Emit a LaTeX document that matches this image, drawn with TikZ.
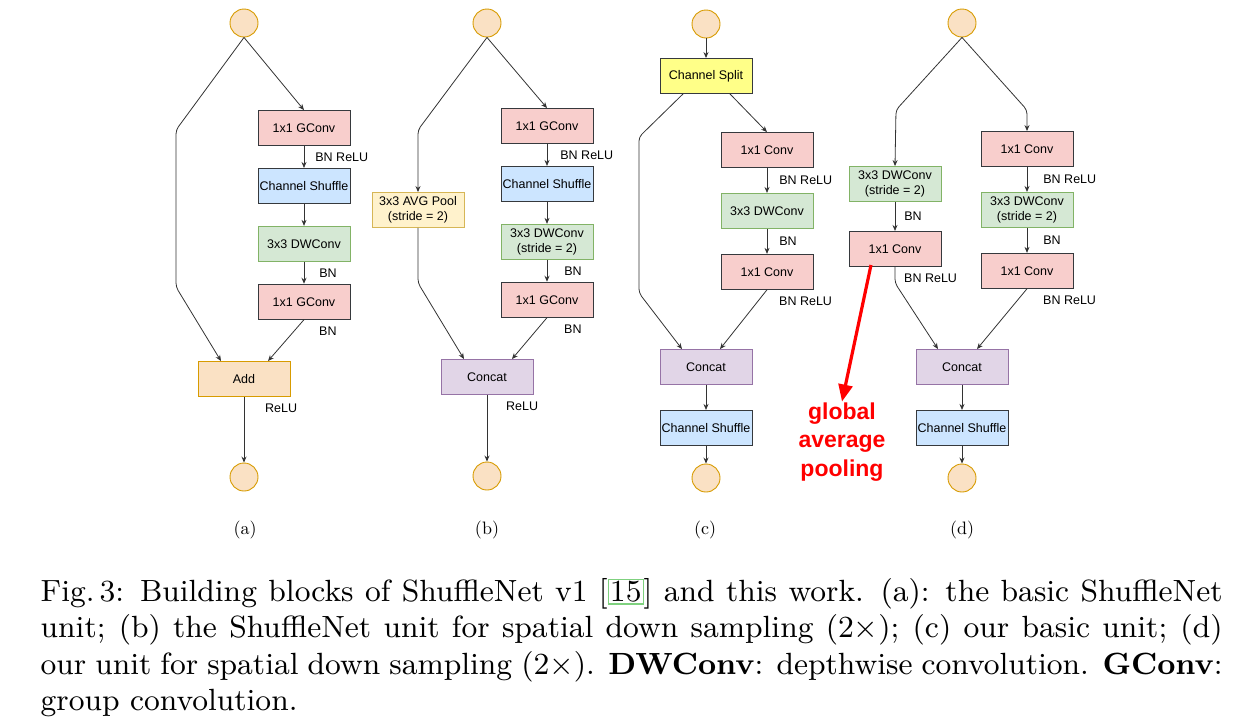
\documentclass[tikz,border=0pt]{standalone}
\usepackage{fontspec}
\setsansfont{Liberation Sans}
\usetikzlibrary{arrows.meta}
\usetikzlibrary{positioning}

\definecolor{convred}{HTML}{F8CECC}
\definecolor{shufblue}{HTML}{CCE5FF}
\definecolor{dwgreen}{HTML}{D5E8D4}
\definecolor{dwline}{HTML}{82B366}
\definecolor{catpurple}{HTML}{E1D5E7}
\definecolor{catline}{HTML}{9673A6}
\definecolor{addorange}{HTML}{FAE1C4}
\definecolor{addline}{HTML}{D79B00}
\definecolor{splityellow}{HTML}{FFFF88}
\definecolor{poolyellow}{HTML}{FFF2CC}
\definecolor{poolline}{HTML}{D6B656}
\definecolor{boxline}{HTML}{36393D}
\definecolor{edgegray}{HTML}{333333}
\definecolor{linkgreen}{HTML}{7FD17F}

\newcommand{\citebox}[1]{{\setlength{\fboxsep}{0.3pt}\setlength{\fboxrule}{0.35pt}\fcolorbox{linkgreen}{white}{#1}}}

\begin{document}
\begin{tikzpicture}[
    x=1pt, y=-1pt,
    >={Stealth[length=6pt,width=5pt]},
    box/.style={draw=boxline, line width=0.9pt, minimum width=92pt, minimum height=35pt, align=center, inner sep=1pt, font=\sffamily\fontsize{12.5}{15.5}\selectfont},
    conv/.style={box, fill=convred},
    shuf/.style={box, fill=shufblue},
    dw/.style={box, fill=dwgreen, draw=dwline},
    cat/.style={box, fill=catpurple, draw=catline},
    addbox/.style={box, fill=addorange, draw=addline},
    splitbox/.style={box, fill=splityellow},
    pool/.style={box, fill=poolyellow, draw=poolline},
    io/.style={circle, draw=addline, fill=addorange, line width=0.9pt, minimum size=28pt, inner sep=0pt},
    lbl/.style={inner sep=0pt, font=\sffamily\fontsize{12.5}{14}\selectfont},
    sub/.style={scale=1.8, transform shape, font=\rmfamily\fontsize{10}{12}\selectfont},
    flow/.style={->, draw=edgegray, line width=0.8pt, rounded corners=4pt},
    gaptext/.style={text=red, align=center, inner sep=1pt, font=\sffamily\bfseries\fontsize{23}{28.5}\selectfont},
    gaparrow/.style={draw=red, line width=3.2pt, -{Triangle[length=17pt,width=14pt]}},
    capt/.style={anchor=north west, text width=346.6pt, align=justify, inner sep=0pt, scale=3.41, transform shape, font=\rmfamily\fontsize{9}{10.6}\selectfont},
    node distance=22pt
]
    \useasboundingbox (0,0) rectangle (1259,724);

    % (a) basic ShuffleNet unit
    \node[io] (in_a) at (244,23) {};
    \node[conv] (g1_a) at (304,128) {1x1 GConv};
    \node[shuf, below=of g1_a] (sh_a) {Channel Shuffle};
    \node[dw, below=of sh_a] (dw_a) {3x3 DWConv};
    \node[conv, below=of dw_a] (g2_a) {1x1 GConv};
    \node[addbox] (add_a) at (244,379) {Add};
    \node[io] (out_a) at (244,477) {};
    \node[sub] (sub_a) at (245,530) {(a)};

    \draw[flow] (in_a.south) -- (176,130) -- (176,287) -- ([xshift=-23pt]add_a.north);
    \draw[flow] (in_a.south) -- (g1_a.north);
    \draw[flow] (g1_a) -- node[lbl, right=11pt] (l1_a) {BN ReLU} (sh_a);
    \draw[flow] (sh_a) -- (dw_a);
    \draw[flow] (dw_a) -- node[lbl, right=15pt] (l2_a) {BN} (g2_a);
    \draw[flow] (g2_a.south) -- ([xshift=24pt]add_a.north);
    \node[lbl, below right=7pt and 15pt of g2_a.south] (l3_a) {BN};
    \draw[flow] (add_a) -- (out_a);
    \node[lbl, below right=7pt and 21pt of add_a.south] (l4_a) {ReLU};

    % (b) ShuffleNet unit, stride 2
    \node[io] (in_b) at (487,23) {};
    \node[conv] (g1_b) at (547,126) {1x1 GConv};
    \node[shuf, below=of g1_b] (sh_b) {Channel Shuffle};
    \node[dw, below=of sh_b] (dw_b) {3x3 DWConv\\(stride = 2)};
    \node[conv, below=of dw_b] (g2_b) {1x1 GConv};
    \node[pool] (pool_b) at (418,210) {3x3 AVG Pool\\(stride = 2)};
    \node[cat] (cat_b) at (487,377) {Concat};
    \node[io] (out_b) at (487,476) {};
    \node[sub] (sub_b) at (487,530) {(b)};

    \draw[flow] (in_b.south) -- (418,130) -- (pool_b.north);
    \draw[flow] (pool_b.south) -- (418,283) -- ([xshift=-23pt]cat_b.north);
    \draw[flow] (in_b.south) -- (g1_b.north);
    \draw[flow] (g1_b) -- node[lbl, right=13pt] (l1_b) {BN ReLU} (sh_b);
    \draw[flow] (sh_b) -- (dw_b);
    \draw[flow] (dw_b) -- node[lbl, right=17pt] (l2_b) {BN} (g2_b);
    \draw[flow] (g2_b.south) -- ([xshift=25pt]cat_b.north);
    \node[lbl, below right=7pt and 17pt of g2_b.south] (l3_b) {BN};
    \draw[flow] (cat_b) -- (out_b);
    \node[lbl, below right=7pt and 19pt of cat_b.south] (l4_b) {ReLU};

    % (c) our basic unit
    \node[io] (in_c) at (706,24) {};
    \node[splitbox] (split_c) at (706,76) {Channel Split};
    \node[conv] (c1_c) at (767,150) {1x1 Conv};
    \node[dw, below=25pt of c1_c] (dw_c) {3x3 DWConv};
    \node[conv, below=25pt of dw_c] (c2_c) {1x1 Conv};
    \node[cat] (cat_c) at (706,367) {Concat};
    \node[shuf, below=25pt of cat_c] (sh_c) {Channel Shuffle};
    \node[io] (out_c) at (706,478) {};
    \node[sub] (sub_c) at (705,530) {(c)};

    \draw[flow] (in_c) -- (split_c);
    \draw[flow] ([xshift=-23pt]split_c.south) -- (639,137) -- (639,293) -- ([xshift=-24pt]cat_c.north);
    \draw[flow] ([xshift=24pt]split_c.south) -- (c1_c.north);
    \draw[flow] (c1_c) -- node[lbl, right=12pt] (l1_c) {BN ReLU} (dw_c);
    \draw[flow] (dw_c) -- node[lbl, right=12pt] (l2_c) {BN} (c2_c);
    \draw[flow] (c2_c.south) -- ([xshift=14pt]cat_c.north);
    \node[lbl, below right=7pt and 12pt of c2_c.south] (l3_c) {BN ReLU};
    \draw[flow] (cat_c) -- (sh_c);
    \draw[flow] (sh_c) -- (out_c);

    % (d) our unit, stride 2
    \node[io] (in_d) at (962,23) {};
    \node[dw] (dwl_d) at (895,184) {3x3 DWConv\\(stride = 2)};
    \node[conv, below=29pt of dwl_d] (cl_d) {1x1 Conv};
    \node[conv] (c1_d) at (1027,149) {1x1 Conv};
    \node[dw, below=25pt of c1_d] (dwr_d) {3x3 DWConv\\(stride = 2)};
    \node[conv, below=25pt of dwr_d] (c2_d) {1x1 Conv};
    \node[cat] (cat_d) at (962,367) {Concat};
    \node[shuf, below=25pt of cat_d] (sh_d) {Channel Shuffle};
    \node[io] (out_d) at (962,478) {};
    \node[sub] (sub_d) at (962,530) {(d)};

    \draw[flow] (in_d.south) -- (896,110) -- (dwl_d.north);
    \draw[flow] (in_d.south) -- (1027,110) -- (c1_d.north);
    \draw[flow] (dwl_d) -- node[lbl, right=9pt] (l1_d) {BN} (cl_d);
    \draw[flow] (cl_d.south) -- (895,283) -- ([xshift=-24pt]cat_d.north);
    \node[lbl, below right=7pt and 9pt of cl_d.south] (l2_d) {BN ReLU};
    \draw[flow] (c1_d) -- node[lbl, right=16pt] (l3_d) {BN ReLU} (dwr_d);
    \draw[flow] (dwr_d) -- node[lbl, right=16pt] (l4_d) {BN} (c2_d);
    \draw[flow] (c2_d.south) -- ([xshift=15pt]cat_d.north);
    \node[lbl, below right=7pt and 16pt of c2_d.south] (l5_d) {BN ReLU};
    \draw[flow] (cat_d) -- (sh_d);
    \draw[flow] (sh_d) -- (out_d);

    % red note
    \coordinate (gap_from) at (871,265);
    \node[gaptext] (gap) at (842,442) {global\\average\\pooling};
    \draw[gaparrow] (gap_from) -- (gap.north);

    % caption
    \node[capt] (fig_cap) at (40,578) {Fig.\,3: Building blocks of ShuffleNet v1 [\citebox{15}] and this work. (a): the basic ShuffleNet\linebreak unit; (b) the ShuffleNet unit for spatial down sampling (2$\times$); (c) our basic unit; (d)\linebreak our unit for spatial down sampling (2$\times$). \textbf{DWConv}: depthwise convolution. \textbf{GConv}:\linebreak group convolution.};
\end{tikzpicture}
\end{document}
